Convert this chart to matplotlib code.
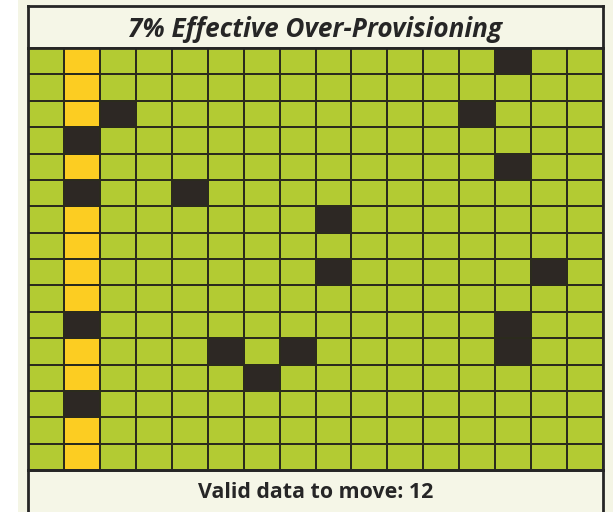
import numpy as np
import matplotlib
matplotlib.use("Agg")
import matplotlib.pyplot as plt
from matplotlib.colors import ListedColormap
from matplotlib.patches import Rectangle

# block layout: 16 blocks (columns) x 16 pages (rows)
n_rows = 16
n_cols = 16
gc_col = 1  # block being garbage collected

# invalid (stale) pages elsewhere in the drive, (row, col), row 0 = top
stale_rows = [0, 2, 2, 4, 5, 6, 8, 8, 10, 11, 11, 11, 12]
stale_cols = [13, 2, 12, 13, 4, 8, 8, 14, 13, 5, 7, 13, 6]
# invalid pages inside the block being collected
gc_stale_rows = [3, 5, 10, 13]

title = "7% Effective Over-Provisioning"
valid_to_move = n_rows - len(gc_stale_rows)
footer = f"Valid data to move: {valid_to_move}"

# 0 = valid, 1 = valid in GC block (to move), 2 = stale
state = np.zeros((n_rows, n_cols), dtype=int)
state[:, gc_col] = 1
state[gc_stale_rows, gc_col] = 2
state[stale_rows, stale_cols] = 2

green = "#b3cb33"
yellow = "#fccd22"
dark = "#2d2824"
line = "#2b2b1d"
cream = "#f4f5e5"

W, H = 613, 512
fig = plt.figure(figsize=(W / 100, H / 100), dpi=100)
fig.patch.set_facecolor(cream)

def fbox(x0, y0, x1, y1):
    # pixel box (top-left origin) -> figure fraction rect
    return [x0 / W, 1 - y1 / H, (x1 - x0) / W, (y1 - y0) / H]

# white strip on the left
fig.patches.append(Rectangle((0, 0), 18 / W, 1, transform=fig.transFigure,
                             facecolor="white", edgecolor="none", zorder=0))

gx0, gx1, gy0, gy1 = 28, 603, 48, 470

# title box
tax = fig.add_axes(fbox(gx0, 6, gx1, gy0))
tax.set_facecolor("#f5f6e7")
tax.set_xticks([]); tax.set_yticks([])
for s in tax.spines.values():
    s.set_linewidth(2.0); s.set_color("#262626")
tax.text(0.5, 0.27, title, ha="center", va="baseline", fontsize=18.8,
         fontweight="bold", fontstyle="italic", family="Open Sans",
         color="#262626", transform=tax.transAxes)

# footer box (runs off the bottom of the image)
bax = fig.add_axes(fbox(gx0, gy1, gx1, H + 10))
bax.set_facecolor("#f5f6e7")
bax.set_xticks([]); bax.set_yticks([])
for s in bax.spines.values():
    s.set_linewidth(2.0); s.set_color("#262626")
bax.text(0.5, 0.456, footer, ha="center", va="baseline", fontsize=15.4,
         fontweight="bold", family="Open Sans",
         color="#262626", transform=bax.transAxes)

# page grid
ax = fig.add_axes(fbox(gx0, gy0, gx1, gy1))
cmap = ListedColormap([green, yellow, dark])
ax.pcolormesh(np.arange(n_cols + 1), np.arange(n_rows + 1), state,
              cmap=cmap, vmin=-0.5, vmax=2.5, edgecolors=line, linewidth=1.3)
ax.set_xlim(0, n_cols)
ax.set_ylim(n_rows, 0)
ax.set_xticks([]); ax.set_yticks([])
for s in ax.spines.values():
    s.set_linewidth(2.0); s.set_color("#262626")

fig.savefig("out.png", dpi=100, facecolor=fig.get_facecolor())
